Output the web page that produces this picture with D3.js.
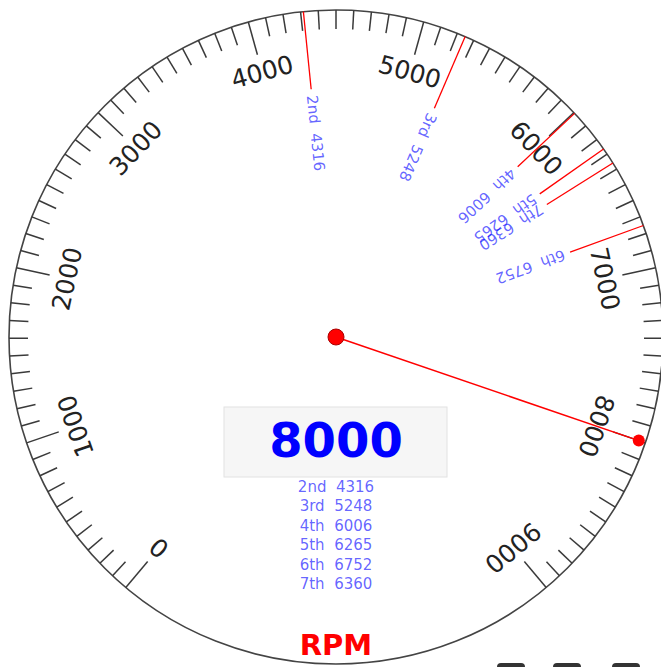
<!DOCTYPE html>
<html>
<head>
<meta charset="utf-8">
<script src="https://cdn.jsdelivr.net/npm/d3@7"></script>
<style>
  html, body { margin: 0; padding: 0; background: #fff; overflow: hidden; }
  svg { display: block; }
</style>
</head>
<body>
<div id="gauge"></div>
<script>
// tachometer data
let rpmMax = 9000;
let rpmValue = 8000;
let majorTicks = [0, 1000, 2000, 3000, 4000, 5000, 6000, 7000, 8000, 9000];
let minorStep = 100;
let gears = ["2nd", "3rd", "4th", "5th", "6th", "7th"];
let shiftPoints = [4316, 5248, 6006, 6265, 6752, 6360];

let w = 661;
let h = 667;
let cx = 336, cy = 337;
let R = 327;

let svg = d3.select("#gauge")
            .append("svg")
            .attr("width", w)
            .attr("height", h);

// rpm -> degrees (0 = straight up, clockwise)
let angle = d3.scaleLinear()
            .domain([0, rpmMax])
            .range([-140, 140]);

let g = svg.append("g")
           .attr("transform", "translate(" + cx + "," + cy + ")");

// dial face
g.append("circle")
    .attr("r", R)
    .attr("fill", "#fff")
    .attr("stroke", "#444")
    .attr("stroke-width", 1.6);

// minor + major ticks
let tickVals = d3.range(0, rpmMax + 1, minorStep);
g.selectAll("line.tick")
    .data(tickVals)
    .enter()
    .append("line")
    .attr("class", "tick")
    .attr("transform", function(d) { return "rotate(" + angle(d) + ")"; })
    .attr("x1", 0)
    .attr("x2", 0)
    .attr("y1", -R)
    .attr("y2", function(d) {
        return majorTicks.indexOf(d) >= 0 ? -(R - 34) : -(R - 19);
    })
    .attr("stroke", "#3a3a3a")
    .attr("stroke-width", 1.5);

// major labels
g.selectAll("text.label")
    .data(majorTicks)
    .enter()
    .append("text")
    .attr("class", "label")
    .attr("transform", function(d) {
        return "rotate(" + angle(d) + ") translate(0," + (-275) + ")";
    })
    .attr("text-anchor", "middle")
    .attr("dominant-baseline", "central")
    .attr("font-family", "'DejaVu Sans', Verdana, sans-serif")
    .attr("font-size", "25px")
    .attr("fill", "#222")
    .text(function(d) { return d; });

// gear shift markers
let shifts = gears.map(function(gname, i) {
    return { gear: gname, rpm: shiftPoints[i] };
});

g.selectAll("line.shift")
    .data(shifts)
    .enter()
    .append("line")
    .attr("class", "shift")
    .attr("transform", function(d) { return "rotate(" + angle(d.rpm) + ")"; })
    .attr("x1", 0)
    .attr("x2", 0)
    .attr("y1", -R)
    .attr("y2", -(R - 78))
    .attr("stroke", "red")
    .attr("stroke-width", 1.3);

g.selectAll("text.shift")
    .data(shifts)
    .enter()
    .append("text")
    .attr("class", "shift")
    .attr("transform", function(d) {
        return "rotate(" + angle(d.rpm) + ") translate(0," + (-(R - 84)) + ") rotate(90)";
    })
    .attr("text-anchor", "start")
    .attr("dominant-baseline", "central")
    .attr("font-family", "'DejaVu Sans', Verdana, sans-serif")
    .attr("font-size", "15px")
    .attr("fill", "blue")
    .attr("fill-opacity", 0.62)
    .style("white-space", "pre")
    .text(function(d) { return d.gear + "  " + d.rpm; });

// digital readout
g.append("rect")
    .attr("x", -112)
    .attr("y", 70)
    .attr("width", 223)
    .attr("height", 70)
    .attr("fill", "#f6f6f6")
    .attr("stroke", "#e2e2e2")
    .attr("stroke-width", 1);

g.append("text")
    .attr("x", 0)
    .attr("y", 120)
    .attr("text-anchor", "middle")
    .attr("font-family", "'DejaVu Sans', Verdana, sans-serif")
    .attr("font-weight", "bold")
    .attr("font-size", "48px")
    .attr("fill", "blue")
    .text(rpmValue);

g.selectAll("text.list")
    .data(shifts)
    .enter()
    .append("text")
    .attr("class", "list")
    .attr("x", 0)
    .attr("y", function(d, i) { return 155 + i * 19.4; })
    .attr("text-anchor", "middle")
    .attr("font-family", "'DejaVu Sans', Verdana, sans-serif")
    .attr("font-size", "15px")
    .attr("fill", "blue")
    .attr("fill-opacity", 0.62)
    .style("white-space", "pre")
    .text(function(d) { return d.gear + "  " + d.rpm; });

g.append("text")
    .attr("x", 0)
    .attr("y", 318)
    .attr("text-anchor", "middle")
    .attr("font-family", "'DejaVu Sans', Verdana, sans-serif")
    .attr("font-weight", "bold")
    .attr("font-size", "29px")
    .attr("fill", "red")
    .text("RPM");

// needle
let needleLen = 320;
let a = angle(rpmValue) * Math.PI / 180;
g.append("line")
    .attr("x1", 0)
    .attr("y1", 0)
    .attr("x2", needleLen * Math.sin(a))
    .attr("y2", -needleLen * Math.cos(a))
    .attr("stroke", "red")
    .attr("stroke-width", 1.5);

g.append("circle")
    .attr("cx", needleLen * Math.sin(a))
    .attr("cy", -needleLen * Math.cos(a))
    .attr("r", 6)
    .attr("fill", "red");

g.append("circle")
    .attr("r", 8)
    .attr("fill", "red")
    .attr("stroke", "#a00")
    .attr("stroke-width", 1);

// partially visible controls below the dial
svg.selectAll("rect.btn")
    .data([497, 553, 612])
    .enter()
    .append("rect")
    .attr("class", "btn")
    .attr("x", function(d) { return d; })
    .attr("y", 663)
    .attr("width", 28)
    .attr("height", 20)
    .attr("rx", 4)
    .attr("fill", "#333");
</script>
</body>
</html>
